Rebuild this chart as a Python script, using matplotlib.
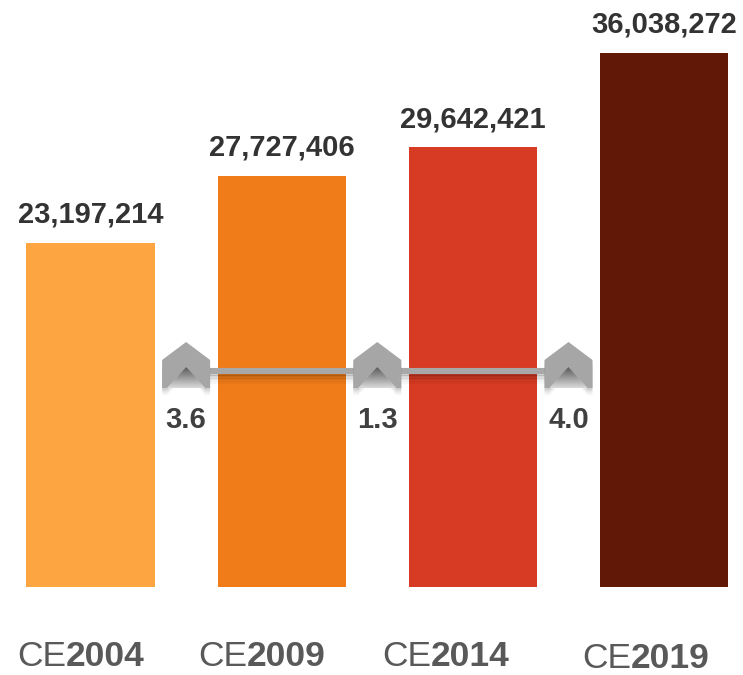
import numpy as np
import matplotlib
matplotlib.use("Agg")
import matplotlib.pyplot as plt
from matplotlib.patches import Polygon
from matplotlib.transforms import Affine2D

# ---- data ----
years = ["2004", "2009", "2014", "2019"]
prefix = "CE"
values = [23197214, 27727406, 29642421, 36038272]
growth = ["3.6", "1.3", "4.0"]
colors = ["#FDA541", "#F07B19", "#D73B23", "#611806"]

W, H = 743, 675
fig = plt.figure(figsize=(W / 100, H / 100), dpi=100)
fig.patch.set_facecolor("white")
ax = fig.add_axes([0, 0, 1, 1])
ax.axis("off")

# layout: pixel mapping
PX_X0, PX_XU = 90.5, 191.2          # pixel of x=0, pixels per category
BASE = 587                           # baseline pixel (from top)
PX_YU = 14.83 / 1e6                  # pixels per unit value
ax.set_xlim(-PX_X0 / PX_XU, (W - PX_X0) / PX_XU)
ax.set_ylim(-(H - BASE) / PX_YU, BASE / PX_YU)

T = Affine2D().scale(1 / W, -1 / H).translate(0, 1) + fig.transFigure

def px2d(px, py):
    return (px - PX_X0) / PX_XU, (BASE - py) / PX_YU

xs = np.arange(len(values))
ax.bar(xs, values, width=0.67, color=colors, zorder=2)

for i, v in enumerate(values):
    ax.annotate(f"{v:,}", (i, v), xytext=(0, 14.4), textcoords="offset points",
                ha="center", va="baseline", fontsize=21, fontweight="bold",
                color="#333333", family="Liberation Sans", zorder=5)

# growth connector line
cx = [PX_X0 + PX_XU * (i + 0.5) for i in range(len(growth))]
LY = 370.5
for k, a in enumerate([0.16, 0.13, 0.10, 0.07, 0.05, 0.03]):
    ax.plot([cx[0], cx[-1]], [LY + 4 + k * 1.6] * 2, transform=T,
            color="black", alpha=a, lw=1.6, solid_capstyle="butt", zorder=3)
ax.plot([cx[0], cx[-1]], [LY, LY], transform=T, color="#A8A8A8", lw=4.4,
        solid_capstyle="butt", zorder=4)

def chevron(c):
    return [(c - 24, 360), (c, 342), (c + 24, 360), (c + 24, 388),
            (c + 19, 388), (c, 367), (c - 19, 388), (c - 24, 388)]

grad = np.linspace(0, 1, 64).reshape(-1, 1)
for i, c in enumerate(cx):
    # soft drop shadow
    for k, a in enumerate([0.07, 0.05, 0.04, 0.03]):
        pts = [(x, y + 2 + 1.8 * k) for x, y in chevron(c)]
        ax.add_patch(Polygon(pts, closed=True, transform=T, facecolor="black",
                             edgecolor="none", alpha=a, zorder=4.5))
    ax.add_patch(Polygon(chevron(c), closed=True, transform=T,
                         facecolor="#A6A6A6", edgecolor="none", zorder=6))
    # notch gradient
    notch = Polygon([(c, 367), (c + 19, 388), (c - 19, 388)], closed=True,
                    transform=T, facecolor="none", edgecolor="none")
    x0, y0 = px2d(c - 19, 388)
    x1, y1 = px2d(c + 19, 367)
    im = ax.imshow(grad, cmap=matplotlib.colors.LinearSegmentedColormap.from_list(
        "g", ["#5A5A5A", "#DADADA"]), extent=[x0, x1, y0, y1], origin="upper",
        aspect="auto", zorder=6.5, interpolation="bilinear")
    im.set_clip_path(notch)
    fig.text(c / W, 1 - 428 / H, growth[i], ha="center", va="baseline",
             fontsize=21, fontweight="bold", color="#404040",
             family="Liberation Sans", zorder=7)

# category labels (CE normal + year bold)
lab_left = [17, 198, 382, 582]
lab_base = [666, 666, 666, 668]
fig.canvas.draw()
renderer = fig.canvas.get_renderer()
for i, y in enumerate(years):
    t = fig.text(lab_left[i] / W, 1 - lab_base[i] / H, prefix, ha="left",
                 va="baseline", fontsize=25.5, color="#595959",
                 family="Liberation Sans")
    bb = t.get_window_extent(renderer=renderer)
    fig.text(bb.x1 / W, 1 - lab_base[i] / H, y, ha="left", va="baseline",
             fontsize=25.5, fontweight="bold", color="#595959",
             family="Liberation Sans")

fig.savefig("out.png", dpi=100)
